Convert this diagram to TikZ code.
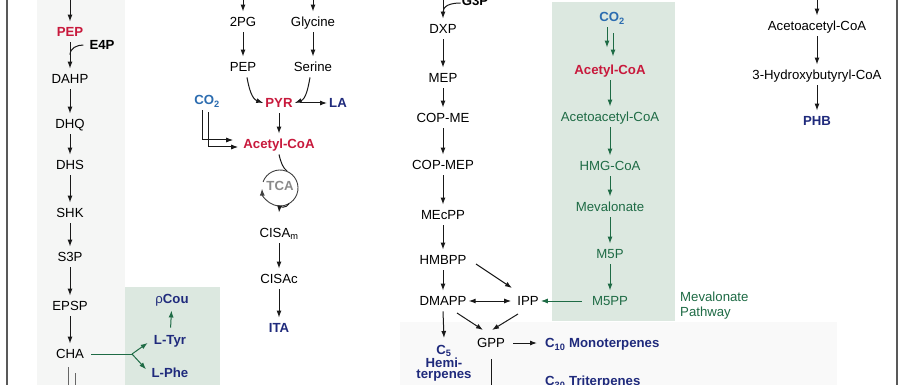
\documentclass[tikz,border=0pt]{standalone}
\usepackage{fontspec}
\setmainfont{Liberation Sans}
\usetikzlibrary{arrows.meta}
\definecolor{myred}{HTML}{C8193C}
\definecolor{myblue}{HTML}{2B6CB0}
\definecolor{mynavy}{HTML}{1F2A7C}
\definecolor{mygreen}{HTML}{1E6B45}
\definecolor{boxgreen}{HTML}{DCE8E0}
\definecolor{stripgray}{HTML}{F5F6F5}
\definecolor{panelgray}{HTML}{F9F9F9}
\definecolor{tcagray}{HTML}{8A8A8A}
\begin{document}
\begin{tikzpicture}[x=1pt,y=1pt,
  txt/.style={font=\fontsize{13.2}{15}\selectfont},
  lab/.style={txt, text height=9.5pt, text depth=0pt, inner xsep=2pt, inner ysep=5.5pt},
  redl/.style={lab, text=myred, font=\fontsize{13.2}{15}\selectfont\bfseries},
  navyl/.style={lab, text=mynavy, font=\fontsize{13.2}{15}\selectfont\bfseries},
  bluel/.style={lab, text=myblue, font=\fontsize{13.2}{15}\selectfont\bfseries},
  boldl/.style={lab, font=\fontsize{13.2}{15}\selectfont\bfseries},
  grnl/.style={lab, text=mygreen},
  tip/.tip={Latex[length=7pt,width=5pt]},
  arr/.style={-tip, line width=1pt, draw=black!90},
  garr/.style={-tip, line width=1pt, draw=mygreen},
  thinl/.style={line width=1pt, draw=black!90},
  gline/.style={line width=1pt, draw=mygreen}
]
\useasboundingbox (0,0) rectangle (905,-385);
% backgrounds
\fill[white] (0,0) rectangle (905,-385);
\fill[stripgray] (37,0) rectangle (125,-385);
\fill[panelgray] (400,-322) rectangle (837,-385);
\fill[boxgreen] (125,-287) rectangle (220,-385);
\fill[boxgreen] (552,-2) rectangle (675,-321);
\draw[line width=1.3pt, draw=black!65] (7,0) -- (7,-385);
\draw[line width=1.3pt, draw=black!65] (897,0) -- (897,-385);

% ---------- column 1: shikimate ----------
\node[redl] (pep1) at (70,-32) {PEP};
\node[boldl] (e4p) at (102,-45) {E4P};
\node[lab] (dahp) at (70,-79) {DAHP};
\node[lab] (dhq) at (70,-124) {DHQ};
\node[lab] (dhs) at (70,-165) {DHS};
\node[lab] (shk) at (70,-213) {SHK};
\node[lab] (s3p) at (70,-257) {S3P};
\node[lab] (epsp) at (70,-306) {EPSP};
\node[lab] (cha) at (70,-354) {CHA};
\node[navyl] (pcou) at (172,-299) {{\mdseries ρ}Cou};
\node[navyl] (ltyr) at (170,-340) {L-Tyr};
\node[navyl] (lphe) at (170,-373) {L-Phe};

\coordinate (tpep1) at (70,0);
\coordinate (e4pj) at (70,-55);
\coordinate (chaj) at (132,-354);
\coordinate (chad1a) at (68,-367);
\coordinate (chad1b) at (68,-390);
\coordinate (chad2a) at (75,-373);
\coordinate (chad2b) at (75,-390);
\draw[arr] (tpep1) -- (pep1);
\draw[arr] (pep1) -- (dahp);
\draw[thinl] ([xshift=-4pt]e4p.west) .. controls (77,-45) and (70,-48) .. (e4pj);
\draw[arr] (dahp) -- (dhq);
\draw[arr] (dhq) -- (dhs);
\draw[arr] (dhs) -- (shk);
\draw[arr] (shk) -- (s3p);
\draw[arr] (s3p) -- (epsp);
\draw[arr] (epsp) -- (cha);
\draw[gline, shorten <=5pt] (cha.east) -- (chaj);
\draw[garr, shorten >=5pt] (chaj) -- (ltyr.west);
\draw[garr, shorten >=5pt] (chaj) -- (lphe.west);
\draw[garr, shorten <=2pt, shorten >=1pt] (ltyr) -- (pcou);
\draw[line width=1pt, draw=black!60] (chad1a) -- (chad1b);
\draw[line width=1pt, draw=black!60] (chad2a) -- (chad2b);

% ---------- column 2: glycolysis / TCA ----------
\node[lab] (pg2) at (243,-22) {2PG};
\node[lab] (gly) at (313,-22) {Glycine};
\node[lab] (pep2) at (243,-67) {PEP};
\node[lab] (ser) at (313,-67) {Serine};
\node[bluel] (co2a) at (207,-100) {CO\textsubscript{2}};
\node[redl] (pyr) at (279,-103) {PYR};
\node[navyl] (la) at (338,-103) {LA};
\node[redl] (acoa2) at (279,-144) {Acetyl-CoA};
\node[lab, text=tcagray, font=\fontsize{13.2}{15}\selectfont\bfseries] (tca) at (280,-186) {TCA};
\node[lab] (cisam) at (279,-233) {CISA\textsubscript{m}};
\node[lab] (cisac) at (279,-279) {CISAc};
\node[navyl] (ita) at (279,-328) {ITA};

\coordinate (tpg2) at (243,0);
\coordinate (tgly) at (313,0);
\draw[arr] (tpg2) -- (pg2);
\draw[arr] (tgly) -- (gly);
\draw[arr] (pg2) -- (pep2);
\draw[arr] (gly) -- (ser);
\draw[arr] ([xshift=4pt]pep2.south) to[out=-80,in=160] (pyr.west);
\draw[arr] ([xshift=-3pt]ser.south) to[out=-100,in=20] (pyr.east);
\draw[arr, shorten <=6pt] (pyr) -- (la);
\draw[arr] (pyr) -- (acoa2);
\draw[arr] ([xshift=-5pt]co2a.south) |- ([xshift=-8pt,yshift=4pt]acoa2.west);
\draw[arr] ([xshift=1pt,yshift=-2pt]co2a.south) |- ([xshift=-3pt,yshift=-3pt]acoa2.west);
% TCA cycle
\draw[thinl] (acoa2.south) .. controls (281,-163) and (283,-168) .. (287,-171);
\draw[arr, line width=0.9pt, draw=black!75] (263.09,-181.84) arc[start angle=160, end angle=-178, radius=18];
\draw[arr] (289,-203.6) to[out=-115,in=85] ([yshift=10pt]cisam.north);
\draw[arr] (cisam) -- (cisac);
\draw[arr] (cisac) -- (ita);

% ---------- column 3: MEP pathway ----------
\node[boldl] (g3p) at (475,-1) {G3P};
\node[lab] (dxp) at (443,-29) {DXP};
\node[lab] (mep) at (443,-78) {MEP};
\node[lab] (copme) at (443,-118) {COP-ME};
\node[lab] (copmep) at (443,-165) {COP-MEP};
\node[lab] (mecpp) at (443,-215) {MEcPP};
\node[lab] (hmbpp) at (443,-260) {HMBPP};
\node[lab] (dmapp) at (443,-301) {DMAPP};
\node[lab] (ipp) at (528,-301) {IPP};
\node[lab] (gpp) at (491,-343) {GPP};
\node[txt, text=mynavy, font=\fontsize{13.2}{11.6}\selectfont\bfseries, align=center, anchor=north, inner sep=2pt] (c5) at (444,-343) {C\textsubscript{5}\\Hemi-\\terpenes};
\node[navyl, anchor=west] (c10) at (543,-343) {C\textsubscript{10} Monoterpenes};
\node[navyl, anchor=west] (c30) at (543,-381) {C\textsubscript{30} Triterpenes};

\coordinate (tdxp) at (443,0);
\coordinate (g3pj) at (443,-12);
\coordinate (gppd) at (491,-392);
\draw[arr] (tdxp) -- (dxp);
\draw[thinl] ([xshift=1pt,yshift=-2pt]g3p.west) .. controls (450,-3) and (443,-6) .. (g3pj);
\draw[arr] (dxp) -- (mep);
\draw[arr] (mep) -- (copme);
\draw[arr] (copme) -- (copmep);
\draw[arr] (copmep) -- (mecpp);
\draw[arr] (mecpp) -- (hmbpp);
\draw[arr] (hmbpp) -- (dmapp);
\draw[arr] ([shift={(33,-4)}]hmbpp.center) -- ([shift={(-16,13)}]ipp.center);
\draw[tip-tip, line width=1pt, draw=black!90, shorten >=4pt] (dmapp) -- (ipp);
\draw[arr] ([shift={(14,-12)}]dmapp.center) -- ([shift={(-8,13)}]gpp.center);
\draw[arr] ([shift={(-10,-13)}]ipp.center) -- ([shift={(1,13)}]gpp.center);
\draw[arr] (dmapp.south) -- ([yshift=5pt]c5.north);
\draw[arr, shorten <=6pt, shorten >=6pt] (gpp) -- (c10);
\draw[arr, shorten <=6pt] (gpp.south) -- (gppd);

% ---------- mevalonate pathway ----------
\node[bluel] (co2b) at (612,-17) {CO\textsubscript{2}};
\node[redl] (acoa3) at (610,-70) {Acetyl-CoA};
\node[grnl] (acac3) at (610,-117) {Acetoacetyl-CoA};
\node[grnl] (hmg) at (610,-166) {HMG-CoA};
\node[grnl] (meva) at (610,-207) {Mevalonate};
\node[grnl] (m5p) at (610,-254) {M5P};
\node[grnl] (m5pp) at (610,-301) {M5PP};
\node[txt, text=mygreen, align=left, anchor=west, inner sep=0pt] (mvpath) at (680,-305.5) {Mevalonate\\Pathway};

\draw[garr] ([xshift=-5pt]co2b.south) -- ([xshift=-3pt,yshift=12pt]acoa3.north);
\draw[garr] ([xshift=1pt,yshift=-6pt]co2b.south) -- ([xshift=3pt,yshift=3pt]acoa3.north);
\draw[garr] (acoa3) -- (acac3);
\draw[garr] (acac3) -- (hmg);
\draw[garr] (hmg) -- (meva);
\draw[garr] (meva) -- (m5p);
\draw[garr] (m5p) -- (m5pp);
\draw[garr, shorten <=8pt] (m5pp) -- (ipp);

% ---------- column 4: PHB ----------
\node[lab] (acac4) at (817,-26) {Acetoacetyl-CoA};
\node[lab] (hbcoa) at (817,-75) {3-Hydroxybutyryl-CoA};
\node[navyl] (phb) at (817,-121) {PHB};
\coordinate (tacac4) at (817,0);
\draw[arr] (tacac4) -- (acac4);
\draw[arr] (acac4) -- (hbcoa);
\draw[arr] (hbcoa) -- (phb);
\end{tikzpicture}
\end{document}
